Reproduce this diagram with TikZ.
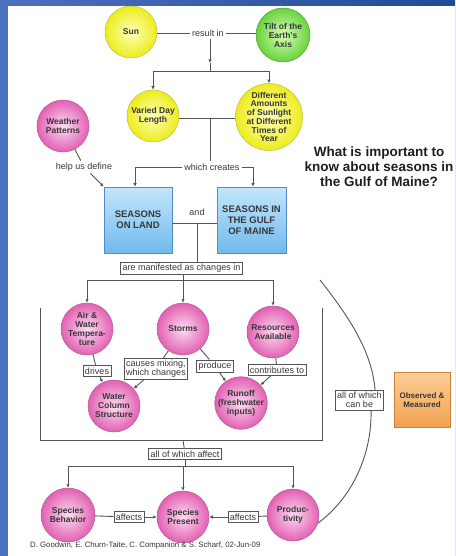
\documentclass[tikz,border=0pt]{standalone}
\usepackage{fontspec}
\setmainfont{Liberation Sans}
\usetikzlibrary{arrows.meta,calc}
\definecolor{bgL}{RGB}{78,112,192}
\definecolor{bgR}{RGB}{32,74,148}
\definecolor{txt}{RGB}{55,55,55}
\definecolor{lineC}{RGB}{85,85,85}
\definecolor{yin}{RGB}{255,255,185}
\definecolor{yout}{RGB}{236,236,30}
\definecolor{yedge}{RGB}{190,190,60}
\definecolor{gin}{RGB}{215,255,185}
\definecolor{gout}{RGB}{105,210,60}
\definecolor{gedge}{RGB}{80,160,60}
\definecolor{pin}{RGB}{252,220,242}
\definecolor{pout}{RGB}{226,96,178}
\definecolor{pedge}{RGB}{180,90,150}
\definecolor{btop}{RGB}{196,230,252}
\definecolor{bbot}{RGB}{112,186,236}
\definecolor{bedge}{RGB}{80,140,200}
\definecolor{otop}{RGB}{252,206,150}
\definecolor{obot}{RGB}{240,162,80}
\definecolor{oedge}{RGB}{200,130,60}
\begin{document}
\begin{tikzpicture}[x=1pt,y=-1pt,
  circ/.style={circle, minimum size=52pt, inner sep=0pt, align=center,
    font=\fontsize{8.5}{9}\selectfont\bfseries, text=txt, line width=0.5pt},
  ycirc/.style={circ, draw=yedge, inner color=yin, outer color=yout},
  gcirc/.style={circ, draw=gedge, inner color=gin, outer color=gout},
  pcirc/.style={circ, draw=pedge, inner color=pin, outer color=pout},
  bluebox/.style={rectangle, draw=bedge, line width=0.6pt, top color=btop, bottom color=bbot,
    align=center, font=\fontsize{9.5}{11}\selectfont\bfseries, text=txt, inner sep=1pt},
  orbox/.style={rectangle, draw=oedge, line width=0.6pt, top color=otop, bottom color=obot,
    align=center, font=\fontsize{8}{9.5}\selectfont\bfseries, text=txt, inner sep=1pt,
    minimum width=56pt, minimum height=55pt},
  lab/.style={fill=white, inner xsep=2pt, inner ysep=2pt, align=center,
    font=\fontsize{9}{9.5}\selectfont, text=txt},
  blab/.style={lab, draw=lineC, line width=0.6pt},
  conn/.style={draw=lineC, line width=0.9pt},
  arr/.style={conn, -{Latex[length=3.5pt,width=3.5pt]}}
]
\useasboundingbox (0,0) rectangle (455,556);
\clip (0,0) rectangle (455,556);
\shade[left color=bgL, right color=bgR] (0,0) rectangle (455,556);
\fill[white] (8,6) rectangle (455,556);

% nodes
\node[ycirc] (sun) at (131,32) {Sun};
\node[gcirc, minimum size=54pt] (tilt) at (283,35) {Tilt of the\\Earth's\\Axis};
\node[lab] (resultin) at (208,33) {result in};
\node[ycirc] (vdl) at (153,116) {Varied Day\\Length};
\node[ycirc, font=\fontsize{8.5}{8.7}\selectfont\bfseries] (diff) at (269,117) {Different\\Amounts\\of Sunlight\\at Different\\Times of\\Year};
\node[pcirc] (weather) at (63,126) {Weather\\Patterns};
\node[lab] (helps) at (84,167) {help us define};
\node[lab] (creates) at (212,167) {which creates};
\node[bluebox, minimum width=68pt, minimum height=66pt] (land) at (138,220) {SEASONS\\ON LAND};
\node[bluebox, minimum width=69pt, minimum height=66pt] (gulf) at (251.5,220) {SEASONS IN\\THE GULF\\OF MAINE};
\node[lab] (and) at (197,212) {and};
\coordinate (andline) at (197,223);
\node[blab] (manif) at (181.5,268) {are manifested as changes in};
\node[font=\fontsize{13.5}{15}\selectfont\bfseries, text={rgb,255:red,30;green,30;blue,30}, align=center, inner sep=0pt] (question) at (379,167)
  {What is important to\\know about seasons in\\the Gulf of Maine?};

\node[pcirc] (air) at (87,329) {Air \&\\Water\\Tempera-\\ture};
\node[pcirc] (storms) at (183,329) {Storms};
\node[pcirc] (res) at (273,332) {Resources\\Available};
\node[blab] (drives) at (97,371) {drives};
\node[blab, font=\fontsize{9}{9}\selectfont] (causes) at (156,369) {causes mixing,\\which changes};
\node[blab] (produce) at (215,366) {produce};
\node[blab] (contrib) at (277,370) {contributes to};
\node[pcirc] (wcs) at (114,406) {Water\\Column\\Structure};
\node[pcirc] (runoff) at (241,403) {Runoff\\(freshwater\\inputs)};
\node[blab, font=\fontsize{9}{9}\selectfont] (canbe) at (359.5,400) {all of which\\can be};
\node[orbox] (obs) at (422,400) {Observed \&\\Measured};

\node[blab] (affect) at (185,454) {all of which affect};
\node[pcirc, minimum size=54pt] (beh) at (68,515) {Species\\Behavior};
\node[pcirc] (pres) at (183,517) {Species\\Present};
\node[pcirc] (prod) at (293,515) {Produc-\\tivity};
\node[blab] (aff1) at (129,517) {affects};
\node[blab] (aff2) at (243,517) {affects};

\node[anchor=base west, font=\fontsize{7.8}{8}\selectfont, text=txt, inner sep=0pt] (credit) at (30,547)
  {D. Goodwin, E. Churn-Taite, C. Companion \& S. Scharf, 02-Jun-09};

% helper coordinates
\coordinate (h1) at (0,71);
\coordinate (h1a) at (0,63);
\coordinate (h2) at (0,118);
\coordinate (v1) at (210,0);
\coordinate (h3) at (0,280);
\coordinate (h4) at (0,466);
\coordinate (creL) at (135,167);
\coordinate (creR) at (253,167);
\coordinate (manB) at (183,268);
\coordinate (brTL) at (40,308);
\coordinate (brBL) at (40,440);
\coordinate (brBR) at (322,440);
\coordinate (brTR) at (322,308);
\coordinate (brB) at (183,440);
\coordinate (arcstart) at (320,280);

% connectors top
\draw[conn] (sun.east |- resultin) -- (resultin) -- (resultin -| tilt.west);
\draw[arr] (v1 |- resultin.south) -- (v1 |- h1a);
\draw[conn] (v1 |- h1a) -- (v1 |- h1);
\draw[conn] (vdl |- h1) -- (diff |- h1);
\draw[arr] (vdl |- h1) -- (vdl.north);
\draw[arr] (diff |- h1) -- (diff.north);
\draw[conn] (vdl.east |- h2) -- (diff.west |- h2);
\draw[conn] (v1 |- h2) -- (v1 |- creates.north);
\draw[conn] (creates.west) -- (creL);
\draw[arr] (creL) -- (creL |- land.north);
\draw[conn] (creates.east) -- (creR);
\draw[arr] (creR) -- (creR |- gulf.north);
\draw[conn] (weather) -- (helps);
\draw[arr] (helps) -- (land.north west);
\draw[conn] (land.east |- andline) -- (gulf.west |- andline);
\draw[conn] (andline) -- (andline |- manif.north);

% middle tree
\draw[conn] (manB |- manif.south) -- (manB |- h3);
\draw[conn] (air |- h3) -- (res |- h3);
\draw[arr] (air |- h3) -- (air.north);
\draw[arr] (storms |- h3) -- (storms.north);
\draw[arr] (res |- h3) -- (res.north);
\draw[conn] (air) -- (drives);
\draw[arr] (drives) -- (wcs);
\draw[conn] (storms) -- (causes);
\draw[arr] (causes) -- (wcs);
\draw[conn] (storms) -- (produce);
\draw[arr] (produce) -- (runoff);
\draw[conn] (res) -- (contrib);
\draw[arr] (contrib) -- (runoff);

% bracket
\draw[conn, line width=0.8pt] (brTL) -- (brBL) -- (brBR) -- (brTR);
\draw[conn] (brB) -- (affect);

% arc
\draw[conn] (arcstart) .. controls (350,318) and (372,352) .. ([xshift=-9pt]canbe.north east);
\draw[conn] ([xshift=-13pt]canbe.south east) .. controls (372,455) and (352,498) .. (prod.-18);

% bottom tree
\draw[conn] (affect.south) -- (affect.south |- h4);
\draw[conn] (beh |- h4) -- (prod |- h4);
\draw[arr] (beh |- h4) -- (beh.north);
\draw[arr] (pres |- h4) -- (pres.north);
\draw[arr] (prod |- h4) -- (prod.north);
\draw[conn] (beh) -- (aff1);
\draw[arr] (aff1) -- (pres);
\draw[conn] (prod) -- (aff2);
\draw[arr] (aff2) -- (pres);
\end{tikzpicture}
\end{document}
